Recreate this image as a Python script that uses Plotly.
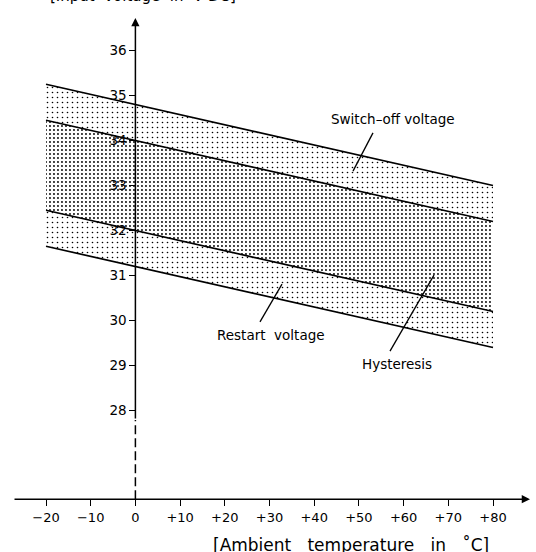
import plotly.graph_objects as go

# ---- data ----
temperature = [-20, 80]                      # °C
switch_off_upper = [35.25, 33.0]             # V DC
switch_off_lower = [34.45, 32.2]
restart_upper = [32.45, 30.2]
restart_lower = [31.65, 29.4]

x_tick_vals = [-20, -10, 0, 10, 20, 30, 40, 50, 60, 70, 80]
x_tick_text = ["\u221220", "\u221210", "0", "+10", "+20", "+30", "+40", "+50", "+60", "+70", "+80"]
y_tick_vals = [28, 29, 30, 31, 32, 33, 34, 35, 36]
y_tick_text = [str(v) for v in y_tick_vals]

# ---- layout geometry ----
W, H = 536, 552
x_range = [-30.29, 89.62]
y_range = [24.856, 37.122]
x_axis_at_v = 26.03      # voltage level where the temperature axis crosses
y_axis_at_t = 0          # temperature where the voltage axis crosses

FONT = "DejaVu Sans, Liberation Sans, Arial, sans-serif"

sparse = dict(shape=".", size=5, solidity=0.08, fgcolor="black", bgcolor="white", fillmode="replace")
dense = dict(shape=".", size=4, solidity=0.18, fgcolor="black", bgcolor="white", fillmode="replace")
line_style = dict(color="black", width=1.7)

fig = go.Figure()
fig.add_trace(go.Scatter(x=temperature, y=restart_lower, mode="lines", line=line_style,
                         hoverinfo="skip", showlegend=False))
fig.add_trace(go.Scatter(x=temperature, y=restart_upper, mode="lines", line=line_style,
                         fill="tonexty", fillpattern=sparse, fillcolor="white",
                         hoverinfo="skip", showlegend=False))
fig.add_trace(go.Scatter(x=temperature, y=switch_off_lower, mode="lines", line=line_style,
                         fill="tonexty", fillpattern=dense, fillcolor="white",
                         hoverinfo="skip", showlegend=False))
fig.add_trace(go.Scatter(x=temperature, y=switch_off_upper, mode="lines", line=line_style,
                         fill="tonexty", fillpattern=sparse, fillcolor="white",
                         hoverinfo="skip", showlegend=False))

x_pos = (y_axis_at_t - x_range[0]) / (x_range[1] - x_range[0])
y_pos = (x_axis_at_v - y_range[0]) / (y_range[1] - y_range[0])

fig.update_layout(
    width=W, height=H, autosize=False,
    margin=dict(l=0, r=0, t=0, b=0),
    paper_bgcolor="white", plot_bgcolor="white",
    font=dict(family=FONT, color="black", size=13),
    xaxis=dict(range=x_range, anchor="free", position=y_pos, showgrid=False, zeroline=False,
               showline=False, ticks="outside", ticklen=6, tickwidth=1.3, tickcolor="black",
               tickvals=x_tick_vals, ticktext=x_tick_text, tickfont=dict(size=13, family=FONT),
               fixedrange=True),
    yaxis=dict(range=y_range, anchor="free", position=x_pos, showgrid=False, zeroline=False,
               showline=False, ticks="outside", ticklen=6, tickwidth=1.3, tickcolor="black",
               tickvals=y_tick_vals, ticktext=y_tick_text, tickfont=dict(size=13.5, family=FONT),
               fixedrange=True),
)

# axes lines with arrows
fig.add_annotation(x=88.28, y=x_axis_at_v, ax=-27.38, ay=x_axis_at_v, xref="x", yref="y",
                   axref="x", ayref="y", showarrow=True, arrowhead=2, arrowsize=1.1,
                   arrowwidth=1.5, arrowcolor="black", text="")
fig.add_annotation(x=y_axis_at_t, y=36.72, ax=y_axis_at_t, ay=27.79, xref="x", yref="y",
                   axref="x", ayref="y", showarrow=True, arrowhead=2, arrowsize=1.1,
                   arrowwidth=1.5, arrowcolor="black", text="")
fig.add_shape(type="line", x0=y_axis_at_t, x1=y_axis_at_t, y0=x_axis_at_v, y1=27.79,
              xref="x", yref="y", line=dict(color="black", width=1.5, dash="9px,4px"))

# labels with leader lines
labels = [
    ("Switch\u2013off voltage", 57.6, 34.48, (53.15, 34.17), (48.68, 33.32)),
    ("Restart  voltage", 30.34, 29.68, (27.87, 29.97), (32.8, 30.81)),
    ("Hysteresis", 58.5, 29.03, (56.96, 29.32), (66.8, 31.01)),
]
for text, tx, ty, p0, p1 in labels:
    fig.add_annotation(x=tx, y=ty, xref="x", yref="y", text=text, showarrow=False,
                       font=dict(size=13.5, family=FONT), xanchor="center", yanchor="middle")
    fig.add_shape(type="line", x0=p0[0], y0=p0[1], x1=p1[0], y1=p1[1], xref="x", yref="y",
                  line=dict(color="black", width=1.3))

# axis titles
fig.add_annotation(x=351 / W, y=1 - 545 / H, xref="paper", yref="paper",
                   text="[Ambient   temperature   in   \u02daC]", showarrow=False,
                   font=dict(size=17, family=FONT), xanchor="center", yanchor="middle")
fig.add_annotation(x=143 / W, y=1 + 4 / H, xref="paper", yref="paper",
                   text="[Input  voltage  in  V DC]", showarrow=False,
                   font=dict(size=15, family=FONT), xanchor="center", yanchor="middle")

fig.write_html("out.html", config={"displayModeBar": False},
               post_script="document.body.style.margin='0';document.body.style.overflow='hidden';")
